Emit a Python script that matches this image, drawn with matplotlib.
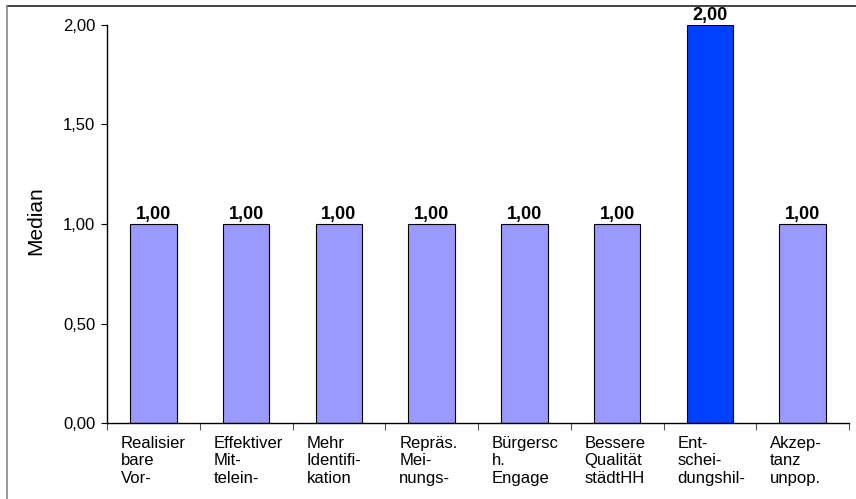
import matplotlib.pyplot as plt
from matplotlib.lines import Line2D
from matplotlib.transforms import blended_transform_factory, offset_copy

plt.rcParams['font.family'] = ['Liberation Sans', 'DejaVu Sans']

labels = ["Realisier\nbare\nVor-", "Effektiver\nMit-\ntelein-", "Mehr\nIdentifi-\nkation",
          "Repräs.\nMei-\nnungs-", "Bürgersc\nh.\nEngage", "Bessere\nQualität\nstädtHH",
          "Ent-\nschei-\ndungshil-", "Akzep-\ntanz\nunpop."]
medians = [1.00, 1.00, 1.00, 1.00, 1.00, 1.00, 2.00, 1.00]
colors = ["#9999ff"] * 6 + ["#0040ff", "#9999ff"]

fig = plt.figure(figsize=(8.56, 4.99), dpi=100)
W, H = 856, 499
ax = fig.add_axes([107 / W, (H - 423) / H, (849 - 107) / W, (423 - 25) / H])

x = range(len(medians))
bars = ax.bar(x, medians, width=0.5, color=colors, edgecolor="black", linewidth=0.8)

for b, v in zip(bars, medians):
    ax.annotate(f"{v:.2f}".replace(".", ","), (b.get_x() + b.get_width() / 2, v),
                xytext=(0, 1), textcoords="offset points", ha="center", va="bottom",
                fontsize=13, fontweight="bold")

ax.set_xlim(-0.5, len(medians) - 0.5)
ax.set_ylim(0, 2)
ax.set_yticks([0, 0.5, 1.0, 1.5, 2.0])
ax.set_yticklabels(["0,00", "0,50", "1,00", "1,50", "2,00"], fontsize=12)
ax.tick_params(axis="y", direction="out", length=4.5, width=0.8, pad=4)

# category labels sit left-aligned under each slot, ticks mark slot boundaries
ax.set_xticks([i - 0.5 for i in range(len(medians) + 1)])
ax.set_xticklabels([])
ax.tick_params(axis="x", direction="out", length=5, width=0.8, color="#555555")
trans = offset_copy(blended_transform_factory(ax.transData, ax.transAxes),
                    fig=fig, x=0, y=-13, units="dots")
for i, lab in enumerate(labels):
    ax.text(i - 0.5 + 0.15, 0, lab, transform=trans, ha="left", va="top",
            fontsize=12, linespacing=1.2)

for s in ["top", "right"]:
    ax.spines[s].set_visible(False)
ax.spines["left"].set_linewidth(1.0)
ax.spines["bottom"].set_linewidth(1.0)

fig.text(36 / W, 1 - 221 / H, "Median", rotation=90, ha="center", va="center", fontsize=15)

# outer frame
fig.add_artist(Line2D([7 / W, 1], [1 - 6 / H, 1 - 6 / H], transform=fig.transFigure,
                      color="#222222", linewidth=1.2))
fig.add_artist(Line2D([7 / W, 7 / W], [0, 1 - 6 / H], transform=fig.transFigure,
                      color="#888888", linewidth=1.2))

fig.savefig("out.png", dpi=100)
